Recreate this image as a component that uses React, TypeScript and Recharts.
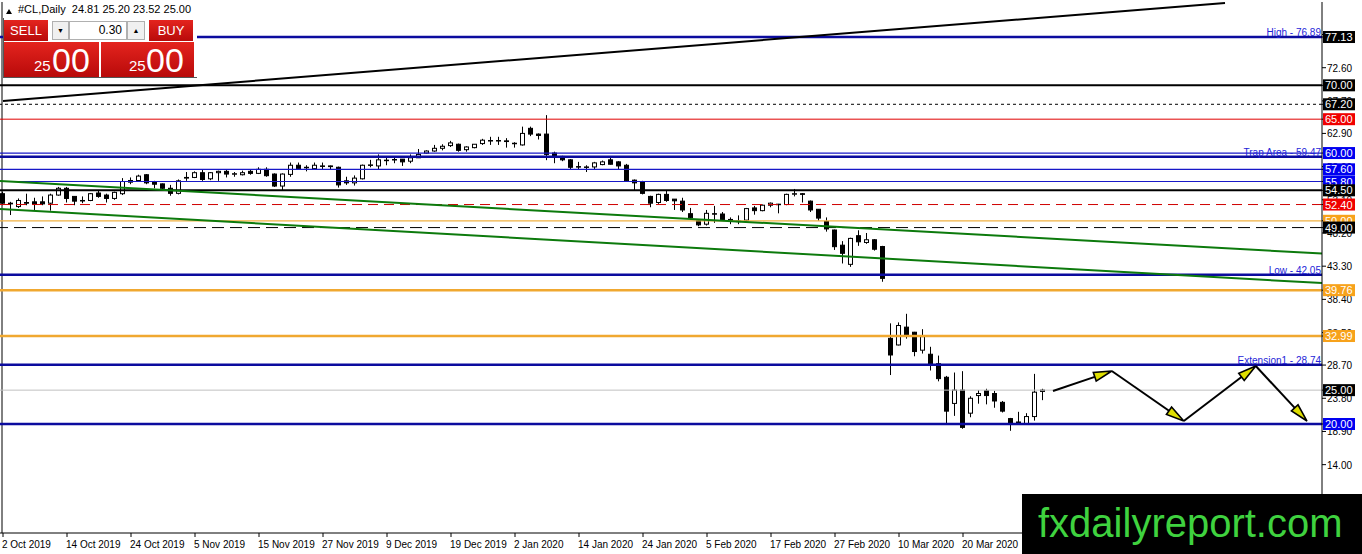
import React from 'react';
import { ComposedChart, Bar, XAxis, YAxis, ReferenceLine } from 'recharts';

// daily candles, #CL, 2 Oct 2019 onwards (bar index = trading day)
const opens = [
  54.0, 52.6, 52.1, 52.7, 52.8, 52.8, 52.6, 53.8, 54.8, 53.6, 53.0, 53.0, 54.1, 53.8, 53.3, 54.0,
  55.7, 55.95, 56.8, 55.8, 55.45, 54.8, 54.05, 56.3, 56.4, 57.1, 56.2, 57.1, 57.3, 56.9, 56.8, 57.3,
  57.0, 57.6, 56.9, 55.13, 56.85, 58.2, 57.9, 57.7, 58.1, 58.1, 57.9, 55.9, 55.6, 56.2, 58.2, 58.1,
  58.9, 59.0, 59.1, 58.8, 59.3, 60.0, 60.3, 60.7, 61.1, 61.3, 60.5, 60.8, 61.4, 61.8, 61.8, 61.8,
  61.4, 61.2, 63.65, 62.8, 62.8, 60.0, 59.5, 59.0, 58.0, 57.9, 57.95, 58.3, 59.0, 58.7, 58.2, 56.0,
  55.8, 53.6, 52.7, 53.9, 53.2, 52.9, 51.05, 50.0, 49.5, 51.05, 51.0, 50.2, 49.9, 50.1, 51.9, 51.5,
  52.3, 52.45, 52.4, 54.0, 54.0, 52.9, 51.7, 49.9, 48.64, 46.4, 43.57, 47.8, 46.8, 47.2, 46.2, 32.65,
  31.67, 34.3, 33.55, 30.9, 30.3, 28.9, 26.9, 23.04, 25.0, 21.6, 24.2, 24.9, 24.5, 23.2, 20.8, 20.2,
  20.0, 21.1, 24.81,
];
const highs = [
  54.3, 52.8, 53.3, 54.0, 53.4, 53.6, 54.0, 55.0, 55.0, 53.6, 53.6, 54.1, 54.4, 54.0, 54.3, 56.3,
  56.4, 56.8, 56.9, 55.9, 55.5, 55.3, 56.1, 57.2, 57.3, 57.6, 57.2, 57.4, 57.6, 57.2, 57.4, 57.6,
  57.9, 57.9, 57.0, 57.0, 58.6, 58.6, 58.2, 58.6, 58.6, 58.15, 58.0, 56.5, 56.7, 58.3, 59.0, 59.8,
  59.3, 59.4, 59.1, 59.8, 60.6, 60.4, 61.2, 61.3, 61.8, 61.4, 61.0, 61.3, 62.1, 62.4, 62.4, 62.2,
  61.6, 63.9, 63.9, 62.9, 65.6, 60.2, 59.6, 59.1, 58.7, 58.2, 58.7, 58.9, 59.3, 58.8, 58.4, 56.1,
  55.9, 53.7, 54.0, 54.4, 53.2, 53.4, 51.9, 50.2, 51.6, 52.2, 51.3, 50.5, 50.8, 51.9, 52.2, 52.4,
  52.7, 52.5, 54.0, 54.7, 54.1, 53.0, 51.7, 50.5, 48.7, 47.0, 47.5, 48.6, 48.2, 47.3, 46.3, 34.86,
  35.0, 36.27, 33.6, 34.0, 31.4, 30.1, 27.1, 27.6, 27.8, 24.1, 25.0, 25.2, 24.9, 23.4, 20.9, 21.8,
  21.6, 27.4, 25.2,
];
const lows = [
  52.3, 50.85, 51.9, 52.3, 51.5, 52.3, 51.5, 53.7, 52.7, 52.3, 52.6, 52.9, 53.4, 52.7, 53.1, 53.8,
  55.4, 55.9, 55.4, 54.8, 54.6, 53.7, 53.9, 55.9, 56.3, 55.9, 56.0, 55.9, 56.4, 56.5, 56.7, 56.8,
  56.9, 56.5, 55.0, 54.54, 56.5, 57.5, 57.3, 57.5, 57.5, 57.5, 54.9, 55.3, 55.2, 56.1, 57.9, 57.5,
  58.2, 58.5, 58.1, 58.5, 59.3, 59.9, 60.2, 60.4, 60.9, 60.2, 60.2, 60.7, 61.2, 61.2, 61.2, 60.8,
  60.8, 61.1, 62.5, 62.0, 58.95, 58.5, 58.8, 57.6, 57.5, 57.2, 57.5, 58.2, 58.3, 57.5, 55.9, 54.5,
  53.9, 52.0, 52.5, 52.8, 51.6, 51.3, 50.2, 49.2, 49.3, 49.7, 50.0, 49.5, 49.5, 50.0, 50.9, 51.4,
  52.0, 51.1, 52.3, 53.6, 52.7, 51.3, 50.0, 48.4, 45.7, 43.7, 43.2, 46.3, 46.6, 45.6, 41.0, 27.23,
  31.6, 32.6, 30.0, 30.4, 27.9, 26.3, 20.0, 21.2, 19.3, 21.0, 23.0, 22.9, 22.4, 21.7, 19.0, 20.0,
  20.0, 20.5, 23.52,
];
const closes = [
  52.6, 52.5, 53.0, 52.6, 52.5, 52.5, 53.8, 54.8, 53.3, 52.9, 53.0, 54.0, 53.6, 53.3, 54.2, 55.8,
  55.95, 56.6, 55.6, 55.4, 54.8, 54.05, 55.9, 56.4, 57.1, 56.1, 57.1, 57.3, 56.9, 56.95, 57.1, 57.0,
  57.6, 56.66, 55.13, 56.9, 58.2, 57.7, 57.85, 58.2, 58.05, 58.0, 55.3, 55.6, 56.3, 58.2, 58.25, 59.0,
  58.95, 59.05, 58.7, 59.3, 59.8, 60.3, 60.7, 61.0, 61.5, 60.4, 60.9, 61.3, 61.9, 61.85, 61.85, 61.7,
  61.45, 62.9, 62.8, 62.6, 59.8, 59.5, 59.0, 57.9, 57.95, 57.95, 58.55, 58.7, 58.35, 58.1, 55.92, 55.6,
  54.05, 52.6, 53.9, 53.0, 52.95, 51.6, 50.45, 49.4, 51.1, 51.0, 50.2, 49.9, 49.95, 51.8, 51.5, 52.3,
  52.6, 52.4, 53.9, 54.0, 53.9, 51.6, 50.4, 48.8, 46.18, 45.2, 47.4, 46.9, 47.2, 45.8, 41.5, 30.19,
  34.54, 33.2, 30.7, 32.9, 28.8, 26.7, 21.9, 25.0, 19.5, 23.8, 24.5, 24.2, 23.4, 21.9, 20.0, 20.3,
  21.1, 24.7, 25.0,
];

const dateTicks = [0, 8, 16, 24, 32, 40, 48, 56, 64, 72, 80, 88, 96, 104, 112, 120];
const dateLabels = [
  '2 Oct 2019', '14 Oct 2019', '24 Oct 2019', '5 Nov 2019', '15 Nov 2019', '27 Nov 2019',
  '9 Dec 2019', '19 Dec 2019', '2 Jan 2020', '14 Jan 2020', '24 Jan 2020', '5 Feb 2020',
  '17 Feb 2020', '27 Feb 2020', '10 Mar 2020', '20 Mar 2020',
];

const priceTicks = [9.1, 14, 18.9, 23.8, 28.7, 33.5, 38.4, 43.3, 48.2, 53.1, 58, 62.9, 67.7, 72.6, 77.5];
const boxPrices = [77.13, 70, 67.2, 65, 60, 57.6, 55.8, 54.5, 52.4, 50, 49, 39.76, 32.99, 25, 20];
const boxKinds = ['black', 'black', 'black', 'red', 'blue', 'blue', 'blue', 'black', 'red', 'orange', 'black', 'orange', 'orange', 'black', 'blue'];

const levelPrices = [77.13, 70, 67.2, 65, 60, 59.47, 57.6, 55.8, 54.5, 52.4, 50, 49, 42.05, 39.76, 32.99, 28.74, 25, 20];
const levelKinds = ['navy', 'black2', 'dots', 'red', 'blue', 'navy', 'blue', 'blue', 'black2', 'redDash', 'orange1', 'blackDash', 'navy', 'orange', 'orange', 'navy', 'bid', 'navy'];
const levelNames = ['High - 76.89', '', '', '', '', 'Trap Area - 59.47', '', '', '', '', '', '', 'Low - 42.05', '', '', 'Extension1 - 28.74', '', ''];

// trend lines: [bar index, price]
const blackTrend = [[0, 67.7], [152.75, 82.15]];
const greenUpper = [[-0.375, 55.87], [164.875, 45.17]];
const greenLower = [[-0.375, 51.74], [164.875, 40.81]];

// projected zigzag
const zigIdx = [131.25, 138.6, 147.6, 156.6, 163.0];
const zigPrice = [24.87, 27.82, 20.44, 28.56, 20.44];

const candles = opens.map((o, i) => ({ i, open: o, high: highs[i], low: lows[i], close: closes[i] }));

const FONT = '"Liberation Sans", Arial, sans-serif';

const lineStyle: Record<string, any> = {
  navy: { stroke: '#0b0b9e', strokeWidth: 2.5 },
  black2: { stroke: '#000', strokeWidth: 2 },
  dots: { stroke: '#000', strokeWidth: 1, strokeDasharray: '3 3' },
  red: { stroke: '#e00000', strokeWidth: 1 },
  blue: { stroke: '#1818c8', strokeWidth: 1.2 },
  redDash: { stroke: '#d00000', strokeWidth: 1, strokeDasharray: '10 6' },
  orange1: { stroke: '#f0b040', strokeWidth: 1.2 },
  blackDash: { stroke: '#000', strokeWidth: 1, strokeDasharray: '12 6' },
  orange: { stroke: '#f0a830', strokeWidth: 2.5 },
  bid: { stroke: '#c0c0c0', strokeWidth: 1 },
};
const boxFill: Record<string, string> = { black: '#000', red: '#f00000', blue: '#0000f0', orange: '#f7a21b' };

const Candle = (props: any) => {
  const { x, y, width, height, payload } = props;
  if (!payload || x == null || y == null) return null;
  const { open, close, high, low } = payload;
  const span = high - low;
  const toPx = (p: number) => (span > 0 ? y + ((high - p) / span) * height : y);
  const cx = Math.floor(x + width / 2) + 0.5;
  const top = toPx(Math.max(open, close));
  const bot = toPx(Math.min(open, close));
  const bull = close >= open;
  return (
    <g>
      <line x1={cx} x2={cx} y1={y} y2={y + height} stroke="#000" strokeWidth={1} />
      <rect x={cx - 2} y={top} width={4} height={Math.max(bot - top, 0.5)} fill={bull ? '#fff' : '#000'} stroke="#000" strokeWidth={1} />
    </g>
  );
};

const PriceTick = (props: any) => {
  const { x, y, payload } = props;
  const v = payload.value;
  const k = boxPrices.indexOf(v);
  if (k >= 0) {
    return (
      <g>
        <rect x={x - 4} y={y - 6} width={32} height={12} fill={boxFill[boxKinds[k]]} />
        <text x={x - 2} y={y + 4} fill="#fff" fontSize={11} fontFamily={FONT}>{v.toFixed(2)}</text>
      </g>
    );
  }
  return <text x={x} y={y + 4} fill="#000" fontSize={10} fontFamily={FONT}>{v.toFixed(2)}</text>;
};

const DateTick = (props: any) => {
  const { x, y, payload } = props;
  const k = dateTicks.indexOf(payload.value);
  return <text x={x - 1} y={y + 9} fill="#000" fontSize={10} fontFamily={FONT}>{dateLabels[k]}</text>;
};

const ArrowLeg = (props: any) => {
  const { x1, y1, x2, y2 } = props;
  const dx = x2 - x1;
  const dy = y2 - y1;
  const len = Math.hypot(dx, dy) || 1;
  const ux = dx / len;
  const uy = dy / len;
  const bx = x2 - ux * 18;
  const by = y2 - uy * 18;
  const px = -uy * 4.5;
  const py = ux * 4.5;
  const pts = `${x2},${y2} ${bx + px},${by + py} ${bx - px},${by - py}`;
  return (
    <g>
      <line x1={x1} y1={y1} x2={bx} y2={by} stroke="#000" strokeWidth={2} />
      <polygon points={pts} fill="#dede00" stroke="#000" strokeWidth={1.6} strokeLinejoin="miter" />
    </g>
  );
};

const redGrad = 'linear-gradient(#e4241e, #b80a0a)';

export default function App() {
  return (
    <div style={{ position: 'absolute', left: 0, top: 0, width: 1362, height: 554, background: '#fff', overflow: 'hidden', fontFamily: FONT }}>
      <ComposedChart width={1362} height={554} data={candles} margin={{ top: 2, right: 0, bottom: 0, left: 0 }}>
        <XAxis
          type="number"
          dataKey="i"
          domain={[-0.375, 164.875]}
          allowDataOverflow
          ticks={dateTicks}
          interval={0}
          height={21}
          tickSize={4}
          tickMargin={2}
          axisLine={{ stroke: '#000' }}
          tickLine={{ stroke: '#000' }}
          tick={<DateTick />}
        />
        <YAxis
          orientation="right"
          type="number"
          domain={[3.91, 82.3]}
          allowDataOverflow
          ticks={[...priceTicks, ...boxPrices]}
          interval={0}
          width={40}
          tickSize={4}
          tickMargin={1}
          axisLine={{ stroke: '#000' }}
          tickLine={{ stroke: '#000' }}
          tick={<PriceTick />}
        />
        <ReferenceLine x={-0.125} stroke="#000" strokeWidth={1} />
        {levelPrices.map((p, k) => (
          <ReferenceLine
            key={'lv' + k}
            y={p}
            {...lineStyle[levelKinds[k]]}
            label={levelNames[k] ? { value: levelNames[k], position: 'insideBottomRight', offset: 1, fill: '#2424d8', fontSize: 10, fontFamily: FONT } : undefined}
          />
        ))}
        <ReferenceLine segment={blackTrend.map(([x, y]) => ({ x, y }))} stroke="#000" strokeWidth={2} ifOverflow="hidden" />
        <ReferenceLine segment={greenUpper.map(([x, y]) => ({ x, y }))} stroke="#0c7a0c" strokeWidth={2} ifOverflow="hidden" />
        <ReferenceLine segment={greenLower.map(([x, y]) => ({ x, y }))} stroke="#0c7a0c" strokeWidth={2} ifOverflow="hidden" />
        <Bar dataKey={(d: any) => [d.low, d.high]} barSize={5} shape={<Candle />} isAnimationActive={false} />
        {zigIdx.slice(0, -1).map((x, k) => (
          <ReferenceLine
            key={'zz' + k}
            segment={[{ x, y: zigPrice[k] }, { x: zigIdx[k + 1], y: zigPrice[k + 1] }]}
            shape={(p: any) => <ArrowLeg {...p} />}
            ifOverflow="visible"
          />
        ))}
      </ComposedChart>

      {/* symbol header */}
      <div style={{ position: 'absolute', left: 6, top: 9, width: 0, height: 0, borderLeft: '3.5px solid transparent', borderRight: '3.5px solid transparent', borderBottom: '5px solid #000' }} />
      <div style={{ position: 'absolute', left: 18, top: 3, fontSize: 11, color: '#000', whiteSpace: 'pre' }}>#CL,Daily  24.81 25.20 23.52 25.00</div>

      {/* one click trading panel */}
      <div style={{ position: 'absolute', left: 3, top: 18, width: 193, height: 59, background: '#fff', borderLeft: '1px solid #555', borderBottom: '1px solid #555' }} />
      <div style={{ position: 'absolute', left: 4, top: 20, width: 44, height: 21, background: redGrad, color: '#fff', fontSize: 13, lineHeight: '21px', textAlign: 'center' }}>SELL</div>
      <div style={{ position: 'absolute', left: 52, top: 21, width: 17, height: 19, background: '#f0f0f0', border: '1px solid #b0b0b0', boxSizing: 'border-box', fontSize: 7, lineHeight: '17px', textAlign: 'center' }}>▼</div>
      <div style={{ position: 'absolute', left: 69, top: 21, width: 58, height: 19, background: '#fff', border: '1px solid #b0b0b0', boxSizing: 'border-box', fontSize: 12, lineHeight: '17px', textAlign: 'right', paddingRight: 4 }}>0.30</div>
      <div style={{ position: 'absolute', left: 127, top: 21, width: 18, height: 19, background: '#f0f0f0', border: '1px solid #b0b0b0', boxSizing: 'border-box', fontSize: 7, lineHeight: '17px', textAlign: 'center' }}>▲</div>
      <div style={{ position: 'absolute', left: 149, top: 20, width: 44, height: 21, background: redGrad, color: '#fff', fontSize: 13, lineHeight: '21px', textAlign: 'center' }}>BUY</div>
      <div style={{ position: 'absolute', left: 4, top: 42, width: 95, height: 35, background: redGrad, color: '#fff' }}>
        <span style={{ position: 'absolute', left: 30, top: 16, fontSize: 15, lineHeight: '15px' }}>25</span>
        <span style={{ position: 'absolute', left: 48, top: 1, fontSize: 34, lineHeight: '34px' }}>00</span>
      </div>
      <div style={{ position: 'absolute', left: 101, top: 42, width: 93, height: 35, background: redGrad, color: '#fff' }}>
        <span style={{ position: 'absolute', left: 28, top: 16, fontSize: 15, lineHeight: '15px' }}>25</span>
        <span style={{ position: 'absolute', left: 45, top: 1, fontSize: 34, lineHeight: '34px' }}>00</span>
      </div>

      {/* watermark */}
      <div style={{ position: 'absolute', left: 1022, top: 494, width: 340, height: 60, background: '#000' }}>
        <span style={{ position: 'absolute', left: 16, top: 9, fontSize: 40, lineHeight: '40px', color: '#3fd23f', whiteSpace: 'nowrap' }}>fxdailyreport.com</span>
      </div>
    </div>
  );
}
